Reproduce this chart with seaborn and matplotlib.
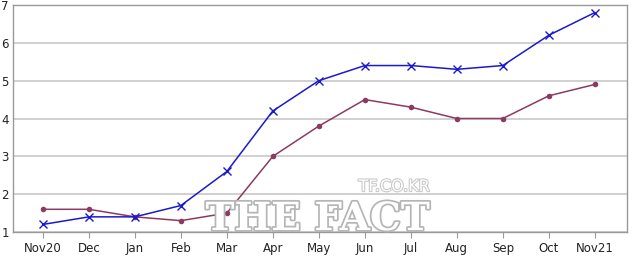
import matplotlib
matplotlib.use("Agg")
import matplotlib.pyplot as plt
import matplotlib.patheffects as pe
import seaborn as sns
import pandas as pd

months = ["Nov20", "Dec", "Jan", "Feb", "Mar", "Apr", "May", "Jun", "Jul", "Aug", "Sep", "Oct", "Nov21"]
blue_vals = [1.2, 1.4, 1.4, 1.7, 2.6, 4.2, 5.0, 5.4, 5.4, 5.3, 5.4, 6.2, 6.8]
maroon_vals = [1.6, 1.6, 1.4, 1.3, 1.5, 3.0, 3.8, 4.5, 4.3, 4.0, 4.0, 4.6, 4.9]
y_ticks = [1, 2, 3, 4, 5, 6, 7]

sns.set_style("white")
plt.rcParams['font.family'] = ['DejaVu Sans']

df = pd.DataFrame({"month": months, "pos": range(len(months)),
                   "blue": blue_vals, "maroon": maroon_vals})

fig = plt.figure(figsize=(6.4, 2.57), dpi=100)
ax = fig.add_axes([13/640, 25/257, 614/640, 227/257])

maroon = "#8b3a62"
blue = "#1a1acc"
sns.lineplot(data=df, x="pos", y="maroon", ax=ax, color=maroon, marker="o",
             markersize=4, markeredgewidth=0, markerfacecolor=maroon,
             linewidth=1.1, zorder=3)
sns.lineplot(data=df, x="pos", y="blue", ax=ax, color=blue, marker="x",
             markersize=5.5, markeredgewidth=1.0, markeredgecolor=blue,
             linewidth=1.1, zorder=4)

ax.set_xlim(-0.65, 12.7)
ax.set_ylim(1, 7)
ax.set_yticks(y_ticks)
ax.set_yticklabels([str(v) for v in y_ticks], fontsize=8.5, color="#222222")
ax.set_xticks(range(len(months)))
ax.set_xticklabels(months, fontsize=8.5, color="#222222")
ax.set_xlabel("")
ax.set_ylabel("")
ax.yaxis.grid(True, color="#c8c8c8", linewidth=1.2)
ax.xaxis.grid(False)
for s in ax.spines.values():
    s.set_color("#999999")
    s.set_linewidth(1.0)
ax.tick_params(axis="x", length=4, color="#999999", pad=3, bottom=True)
ax.tick_params(axis="y", length=0, pad=3)

ax.text(0.679, 0.20, "TF.CO.KR", transform=ax.transAxes, fontsize=11.5, color="white",
        ha="right", va="center", family=["Liberation Sans Narrow", "DejaVu Sans"],
        path_effects=[pe.withStroke(linewidth=1.5, foreground="#c8c8c8")], zorder=6)
ax.text(0.679, 0.057, "THE FACT", transform=ax.transAxes, fontsize=28, color="white",
        ha="right", va="center", family="DejaVu Serif", fontweight="bold",
        path_effects=[pe.withStroke(linewidth=2.5, foreground="#b5b5b5")], zorder=6)

fig.savefig("out.png", dpi=100)
